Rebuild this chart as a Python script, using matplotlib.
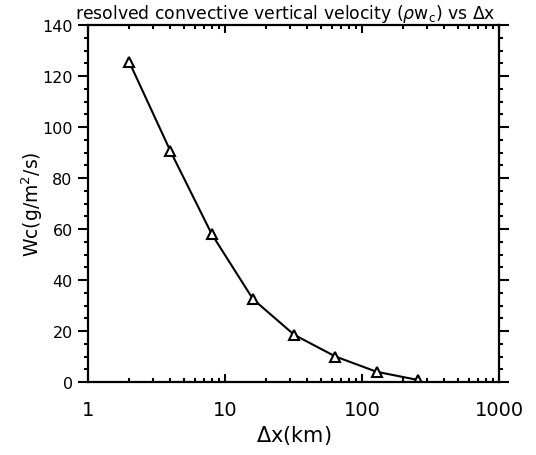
import matplotlib
matplotlib.use("Agg")
import matplotlib.pyplot as plt
from matplotlib.ticker import MultipleLocator, FixedLocator, LogLocator, NullFormatter

dx_km = [2, 4, 8, 16, 32, 64, 128, 256]
wc = [125.5, 90.5, 58.0, 32.5, 18.5, 10.0, 4.0, 0.8]
xticks = [1, 10, 100, 1000]
xticklabels = ["1", "10", "100", "1000"]
yticks = [0, 20, 40, 60, 80, 100, 120, 140]

plt.rcParams['font.family'] = ['DejaVu Sans']
plt.rcParams['mathtext.fontset'] = 'dejavusans'

fig = plt.figure(figsize=(5.36, 4.56), dpi=100)
ax = fig.add_axes([88/536, 73/456, 411/536, 357/456])

ax.plot(dx_km, wc, color='black', lw=1.5, marker='^', markersize=7,
        markerfacecolor='white', markeredgecolor='black', markeredgewidth=1.5)

ax.set_xscale('log')
ax.set_xlim(1, 1000)
ax.set_ylim(0, 140)
ax.xaxis.set_major_locator(FixedLocator(xticks))
ax.set_xticklabels(xticklabels)
ax.xaxis.set_minor_locator(LogLocator(base=10, subs=range(2, 10)))
ax.xaxis.set_minor_formatter(NullFormatter())
ax.set_yticks(yticks)
ax.yaxis.set_minor_locator(MultipleLocator(5))

for s in ax.spines.values():
    s.set_linewidth(1.6)

ax.tick_params(axis='x', which='both', direction='in', top=True, bottom=True,
               labelsize=14, pad=13, width=1.5)
ax.tick_params(axis='x', which='major', length=6)
ax.tick_params(axis='x', which='minor', length=3)
ax.tick_params(axis='y', which='both', direction='out', left=True, right=True,
               labelsize=11.5, pad=4, width=1.5)
ax.tick_params(axis='y', which='major', length=7)
ax.tick_params(axis='y', which='minor', length=3)

ax.set_xlabel(r'$\Delta$x(km)', fontsize=15, labelpad=3)
ax.set_ylabel(r'Wc(g/m$^2$/s)', fontsize=13.5, labelpad=-2)
ax.set_title(r'resolved convective vertical velocity ($\rho$w$_\mathrm{c}$) vs $\Delta$x',
             fontsize=12.4, pad=5, x=0.48)

fig.savefig('out.png', dpi=100)
